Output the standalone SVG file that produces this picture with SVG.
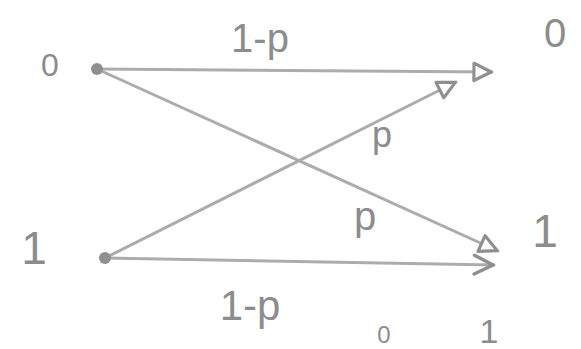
<svg xmlns="http://www.w3.org/2000/svg" width="581" height="349" viewBox="0 0 581 349">
<style>
.edge{stroke:#acacac;stroke-width:3;fill:none;stroke-linecap:round}
.lbl{font-family:"Liberation Sans",Arial,sans-serif;fill:#8c8c8c;text-anchor:middle}
.dot{fill:#8f8f8f}
</style>
<defs>
<marker id="tri" viewBox="0 0 14 14" refX="13" refY="7" markerWidth="22" markerHeight="22" markerUnits="userSpaceOnUse" orient="auto">
<path d="M1.5,1.5 L12.5,7 L1.5,12.5 Z" fill="#fff" stroke="#8f8f8f" stroke-width="2" stroke-linejoin="round"/>
</marker>
<marker id="chev" viewBox="0 0 14 14" refX="13" refY="7" markerWidth="24" markerHeight="24" markerUnits="userSpaceOnUse" orient="auto">
<path d="M1.5,1.5 L12.5,7 L1.5,12.5" fill="none" stroke="#8f8f8f" stroke-width="2" stroke-linecap="round" stroke-linejoin="round"/>
</marker>
</defs>
<rect width="581" height="349" fill="#fff"/>
<g id="connectors">
<line class="edge" x1="97" y1="69" x2="492" y2="72" marker-end="url(#tri)"/>
<line class="edge" x1="105" y1="258" x2="456" y2="82" marker-end="url(#tri)"/>
<line class="edge" x1="97" y1="69" x2="498" y2="251" marker-end="url(#tri)"/>
<line class="edge" x1="105" y1="258" x2="494" y2="265" marker-end="url(#chev)"/>
</g>
<g id="in0"><circle class="dot" cx="97" cy="69" r="6"/><text class="lbl" x="50" y="76" font-size="32">0</text></g>
<g id="in1"><circle class="dot" cx="105" cy="258" r="6"/><text class="lbl" x="34" y="264" font-size="46">1</text></g>
<g id="out0"><text class="lbl" x="555" y="47" font-size="40">0</text></g>
<g id="out1"><text class="lbl" x="545" y="247" font-size="46">1</text></g>
<g id="labels">
<text class="lbl" x="260" y="52" font-size="40">1-p</text>
<text class="lbl" x="382" y="147" font-size="36">p</text>
<text class="lbl" x="365" y="230" font-size="40">p</text>
<text class="lbl" x="250" y="320" font-size="42">1-p</text>
<text class="lbl" x="384" y="343" font-size="24">0</text>
<text class="lbl" x="489" y="343" font-size="34">1</text>
</g>
</svg>
